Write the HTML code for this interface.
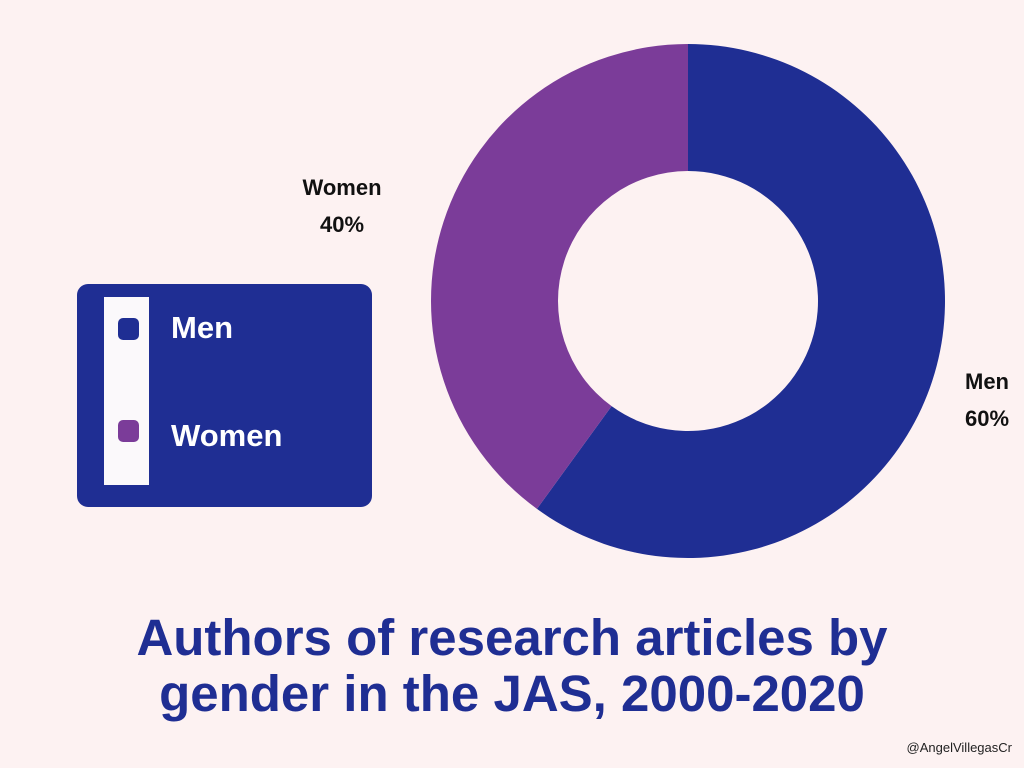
<!DOCTYPE html>
<html><head><meta charset="utf-8"><style>
body{margin:0;width:1024px;height:768px;background:#fdf2f2;overflow:hidden;font-family:"Liberation Sans",sans-serif;position:relative}
.abs{position:absolute}
</style></head><body>
<svg class="abs" style="left:0;top:0" width="1024" height="768">
<g id="slices"></g>
<g id="labels"></g>
</svg>
<div class="abs" style="left:77px;top:284px;width:295px;height:223px;background:#1f2e93;border-radius:11px">
  <div class="abs" style="left:27px;top:13px;width:45px;height:188px;background:#fbf9fb"></div>
  <div class="abs" style="left:41px;top:34px;width:21px;height:22px;background:#1f2e93;border-radius:5px"></div>
  <div class="abs" style="left:41px;top:136px;width:21px;height:22px;background:#7b3c99;border-radius:5px"></div>
  <div class="abs" style="left:94px;top:26px;color:#fff;font-size:31px;font-weight:bold">Men</div>
  <div class="abs" style="left:94px;top:134px;color:#fff;font-size:31px;font-weight:bold">Women</div>
</div>
<div class="abs" style="left:0;top:610px;width:1024px;text-align:center;color:#1f2e93;font-size:51px;font-weight:bold;line-height:56px;letter-spacing:0px">Authors of research articles by<br>gender in the JAS, 2000-2020</div>
<div class="abs" style="right:12px;top:740px;font-size:13px;color:#222">@AngelVillegasCr</div>
<script>
const categories=["Men","Women"];
const values=[60,40];
const colors=["#1f2e93","#7b3c99"];
const cx=688,cy=301,R=257,r=130;
const total=values.reduce((a,b)=>a+b,0);
const ns="http://www.w3.org/2000/svg";
const g=document.getElementById('slices'),lg=document.getElementById('labels');
function pt(a,rad){return [cx+rad*Math.sin(a),cy-rad*Math.cos(a)];}
let a0=0;
values.forEach((v,i)=>{
 const a1=a0+v/total*2*Math.PI;const big=(a1-a0)>Math.PI?1:0;
 const [x0,y0]=pt(a0,R),[x1,y1]=pt(a1,R),[x2,y2]=pt(a1,r),[x3,y3]=pt(a0,r);
 const p=document.createElementNS(ns,'path');
 p.setAttribute('d',`M${x0},${y0}A${R},${R} 0 ${big} 1 ${x1},${y1}L${x2},${y2}A${r},${r} 0 ${big} 0 ${x3},${y3}Z`);
 p.setAttribute('fill',colors[i]);
 
 
 g.appendChild(p);
 const px=i==0?cx+299:cx-346, py=i==0?381:187;
 [categories[i],v+"%"].forEach((s,k)=>{
  const t=document.createElementNS(ns,'text');
  t.setAttribute('x',px);t.setAttribute('y',py+k*37+8);
  t.setAttribute('text-anchor','middle');t.setAttribute('font-size','22');t.setAttribute('font-weight','bold');
  t.setAttribute('font-family','Liberation Sans, sans-serif');t.setAttribute('fill','#111');
  t.textContent=s;
  
  
  lg.appendChild(t);
 });
 a0=a1;
});
</script>
</body></html>
